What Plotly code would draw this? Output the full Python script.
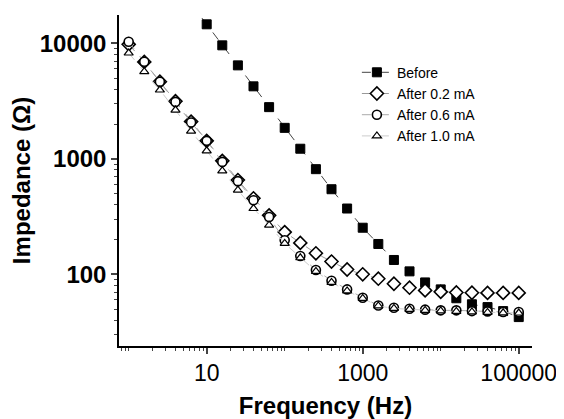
import plotly.graph_objects as go

freq = [1, 1.585, 2.512, 3.981, 6.31, 10, 15.85, 25.12, 39.81, 63.1,
        100, 158.5, 251.2, 398.1, 631, 1000, 1585, 2512, 3981, 6310,
        10000, 15850, 25120, 39810, 63100, 100000]

before_freq = [6.31, 10, 15.85, 25.12, 39.81, 63.1, 100, 158.5, 251.2, 398.1,
               631, 1000, 1585, 2512, 3981, 6310, 10000, 15850, 25120, 39810,
               63100, 100000]
before = [22000, 14600, 9600, 6440, 4240, 2800, 1853, 1222, 813, 545,
          371, 253, 183, 133, 106, 85, 74, 62, 55, 52, 48, 42.6]

after_02 = [9800, 6900, 4650, 3150, 2100, 1430, 960, 655, 455, 324,
            232, 187, 152, 129, 110, 100, 91.5, 82.8, 76.5, 72.5,
            70.5, 69.6, 69.2, 69, 69, 69]

after_06 = [10300, 6920, 4640, 3110, 2064, 1430, 940, 640, 438, 313,
            197, 144, 109, 88, 74, 62.7, 53.7, 51.3, 50.3, 49.4,
            48.7, 48.7, 48, 47.7, 47.2, 47.2]

after_10 = [8240, 5680, 3940, 2640, 1735, 1172, 786, 535, 371, 266,
            185, 139, 106, 85, 71.8, 61.8, 53.2, 50.6, 49.7, 48.7,
            48.2, 47.7, 47.2, 46.7, 46.4, 46.2]

names = ["Before", "After 0.2 mA", "After 0.6 mA", "After 1.0 mA"]
x_tickvals = [10, 1000, 100000]
x_ticktext = ["10", "1000", "100000"]
y_tickvals = [100, 1000, 10000]
y_ticktext = ["100", "1000", "10000"]

FONT = "Arial, 'Liberation Sans', sans-serif"

fig = go.Figure()
fig.add_trace(go.Scatter(
    x=before_freq, y=before, name=names[0], mode="lines+markers",
    line=dict(color="#444444", width=1, dash="dash"),
    marker=dict(symbol="square", size=9, color="black",
                line=dict(color="black", width=1))))
fig.add_trace(go.Scatter(
    x=freq, y=after_02, name=names[1], mode="lines+markers",
    line=dict(color="#999999", width=1, dash="dash"),
    marker=dict(symbol="diamond", size=10, color="white",
                line=dict(color="black", width=1.6))))
fig.add_trace(go.Scatter(
    x=freq, y=after_06, name=names[2], mode="lines+markers",
    line=dict(color="#aaaaaa", width=1, dash="dash"),
    marker=dict(symbol="circle", size=9, color="white",
                line=dict(color="black", width=1.6))))
fig.add_trace(go.Scatter(
    x=freq, y=after_10, name=names[3], mode="lines+markers",
    line=dict(color="#cccccc", width=1, dash="dash"),
    marker=dict(symbol="triangle-up", size=8, color="white",
                line=dict(color="black", width=1.2))))

# page body has an 8px margin, so the figure is 8px smaller and offset
fig.update_layout(
    width=556, height=411,
    margin=dict(l=111, r=32, t=7, b=73, autoexpand=False),
    paper_bgcolor="white", plot_bgcolor="white",
    font=dict(family=FONT, color="black"),
    showlegend=True,
    legend=dict(x=0.576, y=0.874, xanchor="left", yanchor="top",
                bgcolor="rgba(0,0,0,0)", font=dict(size=14, family=FONT)),
)
fig.update_xaxes(
    type="log", range=[-0.124, 5.17], automargin=False,
    tickvals=x_tickvals, ticktext=x_ticktext,
    ticks="outside", ticklen=6, tickwidth=1.5,
    showline=True, linecolor="black", linewidth=1.5, mirror=False,
    showgrid=False, zeroline=False,
    tickfont=dict(size=23, family=FONT),
    minor=dict(ticks="outside", ticklen=3, tickwidth=1, dtick="D1", showgrid=False),
    title=dict(text="<b>Frequency (Hz)</b>", font=dict(size=24, family=FONT), standoff=14),
)
fig.update_yaxes(
    type="log", range=[1.379, 4.245], automargin=False,
    tickvals=y_tickvals, ticktext=["<b>%s</b>" % t for t in y_ticktext],
    ticks="outside", ticklen=6, tickwidth=1.5,
    showline=True, linecolor="black", linewidth=1.5, mirror=False,
    showgrid=False, zeroline=False,
    tickfont=dict(size=24, family=FONT),
    minor=dict(ticks="outside", ticklen=3, tickwidth=1, dtick="D1", showgrid=False),
    title=dict(text="<b>Impedance (Ω)</b>", font=dict(size=24, family=FONT), standoff=6),
)

fig.write_html("out.html")
